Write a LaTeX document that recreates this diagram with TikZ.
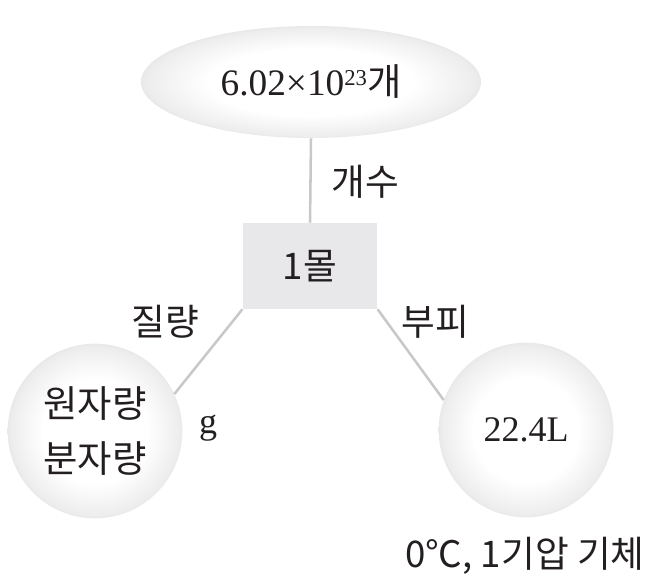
\documentclass[tikz,border=0pt]{standalone}
\usepackage{fontspec}
\setmainfont{Liberation Serif}
\newfontfamily\kor{Noto Sans CJK KR}
\usetikzlibrary{shapes.geometric}
\definecolor{boxgray}{RGB}{232,232,234}
\definecolor{linegray}{RGB}{200,200,200}
\definecolor{ink}{RGB}{35,31,32}
\pgfdeclareradialshading{ballshade}{\pgfpoint{0bp}{0bp}}{color(0bp)=(white); color(15bp)=(white); color(24bp)=(black!7); color(30bp)=(black!18); color(34bp)=(black!36); color(50bp)=(black!36)}

\begin{document}
\begin{tikzpicture}[x=0.75pt, y=-0.75pt,
	sphere/.style={shading=ballshade, inner sep=0pt, text=ink},
	link/.style={draw=linegray, line width=1.9pt},
	label/.style={text=ink, font=\kor\fontsize{27.5pt}{32pt}\selectfont, inner sep=0pt}]
	\useasboundingbox (0, 0) rectangle (652, 585);

	% top ellipse and the mole box
	\node[sphere, ellipse, minimum width=255pt, minimum height=84pt,
		font=\fontsize{28pt}{32pt}\selectfont] (count) at (311, 82)
		{6.02×10\raisebox{0.27em}{\fontsize{17pt}{17pt}\selectfont 23}{\kor 개}};
	\node[fill=boxgray, minimum width=101pt, minimum height=64.5pt, text=ink,
		font=\kor\fontsize{27.5pt}{32pt}\selectfont] (mole) at (310, 266) {1몰};

	% the two balls
	\node[sphere, circle, minimum size=131pt, align=center,
		font=\kor\fontsize{28pt}{41pt}\selectfont] (mass) at (95, 431) {원자량\\분자량};
	\node[sphere, circle, minimum size=131pt,
		font=\fontsize{27pt}{30pt}\selectfont] (volume) at (526, 430) {22.4L};

	\draw[link] (count.south) -- (mole.north);
	\draw[link] (mole.south west) -- (mass.25);
	\draw[link] (mole.south east) -- (volume.160);

	% labels
	\node[label] (countlbl) at (365, 182) {개수};
	\node[label] (masslbl) at (165, 322) {질량};
	\node[label] (vollbl) at (435, 322) {부피};
	\node[text=ink, font=\fontsize{27pt}{30pt}\selectfont, inner sep=0pt] (gram) at (208, 428) {g};
	\node[label] (gas) at (525, 556) {0℃, 1기압 기체};
\end{tikzpicture}
\end{document}
